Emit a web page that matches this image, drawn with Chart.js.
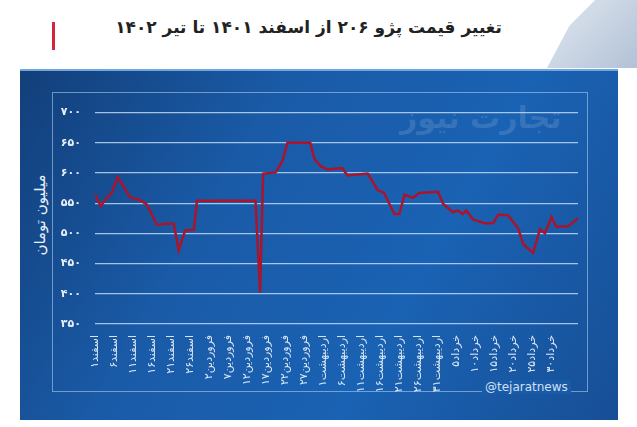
<!DOCTYPE html>
<html>
<head>
<meta charset="utf-8">
<script src="https://cdn.jsdelivr.net/npm/chart.js@4/dist/chart.umd.min.js"></script>
<style>
  body { margin: 0; width: 637px; height: 427px; background: #fff; position: relative; overflow: hidden; font-family: 'DejaVu Sans', sans-serif; }
  #title { position: absolute; top: 17px; left: 0; width: 617px; text-align: center; font-size: 17px; font-weight: bold; color: #222; direction: rtl; }
  #redbar { position: absolute; left: 52px; top: 22px; width: 3px; height: 28px; background: #d0283a; }
  #deco { position: absolute; right: 0; top: 0; width: 90px; height: 68px; background: linear-gradient(135deg, #fff 30%, #c7d3e3 31%, #9fb2cc 100%); clip-path: polygon(40% 0, 100% 0, 100% 100%, 0 100%); opacity: .8; }
  #panel { position: absolute; left: 20px; top: 69px; width: 598px; height: 349px; background: linear-gradient(120deg, #123f7a 0%, #1a5ba8 35%, #1a62b3 65%, #174f96 100%); border-top: 2px solid #6fa8e0; }
  #frame { position: absolute; left: 52px; top: 92px; width: 536px; height: 300px; border: 1px solid rgba(170,205,240,.6); box-sizing: border-box; }
  #ytitle { position: absolute; left: 40px; top: 215px; transform: translate(-50%,-50%) rotate(-90deg); color: #e8f0fa; font-size: 15px; white-space: nowrap; direction: rtl; }
  #wm { position: absolute; left: 400px; top: 100px; color: rgba(255,255,255,.13); font-size: 30px; font-weight: bold; direction: rtl; }
  #handle { position: absolute; left: 482px; top: 380px; color: #cfe0f4; font-size: 12px; background: #1a5ba8; padding: 0 3px; }
  #wrap { position: absolute; left: 52px; top: 92px; width: 536px; height: 300px; }
</style>
</head>
<body>
<div id="deco"></div>
<div id="title">تغییر قیمت پژو ۲۰۶ از اسفند ۱۴۰۱ تا تیر ۱۴۰۲</div>
<div id="redbar"></div>
<div id="panel"></div>
<div id="frame"></div>
<div id="wm">تجارت نیوز</div>
<div id="ytitle">میلیون تومان</div>
<div id="wrap"><canvas id="chart" width="536" height="300"></canvas></div>
<div id="handle">@tejaratnews</div>
<script>
// tick labels, one per 5 days
const tickLabels = ['اسفند۱', 'اسفند۶', 'اسفند۱۱', 'اسفند۱۶', 'اسفند۲۱', 'اسفند۲۶',
  'فروردین۲', 'فروردین۷', 'فروردین۱۲', 'فروردین۱۷', 'فروردین۲۲', 'فروردین۲۷',
  'اردیبهشت۱', 'اردیبهشت۶', 'اردیبهشت۱۱', 'اردیبهشت۱۶', 'اردیبهشت۲۱', 'اردیبهشت۲۶', 'اردیبهشت۳۱',
  'خرداد۵', 'خرداد۱۰', 'خرداد۱۵', 'خرداد۲۰', 'خرداد۲۵', 'خرداد۳۰'];

// day index since 1 Esfand, price in million toman
const days = [0, 1.5, 2.6, 4.4, 5.9, 7, 8, 9.2, 11.9, 13.6, 16.3, 18.5, 20.7, 22, 23.7, 26, 26.8,
  42.2, 43.4, 44.2, 47.5, 49.3, 50.6, 56.6, 57.7, 59.4, 61.1, 65, 66.4, 71.7, 74.3, 76, 78.7, 80,
  81.4, 83.6, 85.3, 90.2, 91.5, 94.1, 95.4, 96.7, 97.6, 99.4, 102.4, 104.7, 106, 108.6, 111.3,
  112.6, 115.2, 117, 118.3, 120, 121.3, 124.4, 127];
const prices = [565, 545, 555, 567, 593, 583, 572, 560, 555, 548, 514, 516, 516, 472, 505, 506, 554,
  554, 402, 599, 601, 620, 650, 650, 623, 611, 606, 608, 596, 599, 572, 567, 532, 532,
  564, 559, 567, 569, 549, 535, 538, 532, 538, 523, 517, 517, 531, 530, 508,
  482, 468, 507, 500, 527, 511, 512, 525];

const toFa = s => String(s).replace(/\d/g, d => '۰۱۲۳۴۵۶۷۸۹'[d]);

new Chart(document.getElementById('chart'), {
  type: 'line',
  data: {
    datasets: [{
      data: days.map((d, i) => ({ x: d, y: prices[i] })),
      borderColor: '#a8152c',
      borderWidth: 2.5,
      pointRadius: 0,
      tension: 0
    }]
  },
  options: {
    responsive: false,
    animation: false,
    layout: { padding: { top: 13, right: 10 } },
    plugins: { legend: { display: false }, tooltip: { enabled: false } },
    scales: {
      x: {
        type: 'linear', min: 0, max: 127,
        afterFit: s => { s.height = 68; },
        grid: { display: false },
        border: { display: false },
        afterBuildTicks: s => { s.ticks = tickLabels.map((_, i) => ({ value: i * 5 })); },
        ticks: {
          autoSkip: false, maxRotation: 90, minRotation: 90, padding: 3,
          color: '#dce8f6', font: { family: 'DejaVu Sans', size: 11 },
          callback: v => tickLabels[v / 5] || ''
        }
      },
      y: {
        min: 350, max: 700,
        afterFit: s => { s.width = 43; },
        border: { display: false },
        grid: { color: 'rgba(200,225,250,.8)', lineWidth: 1.3, drawTicks: false },
        ticks: {
          stepSize: 50, padding: 14, color: '#e8f0fa',
          font: { family: 'DejaVu Sans', size: 11, weight: 'bold' },
          callback: v => toFa(v)
        }
      }
    }
  }
});
</script>
</body>
</html>
